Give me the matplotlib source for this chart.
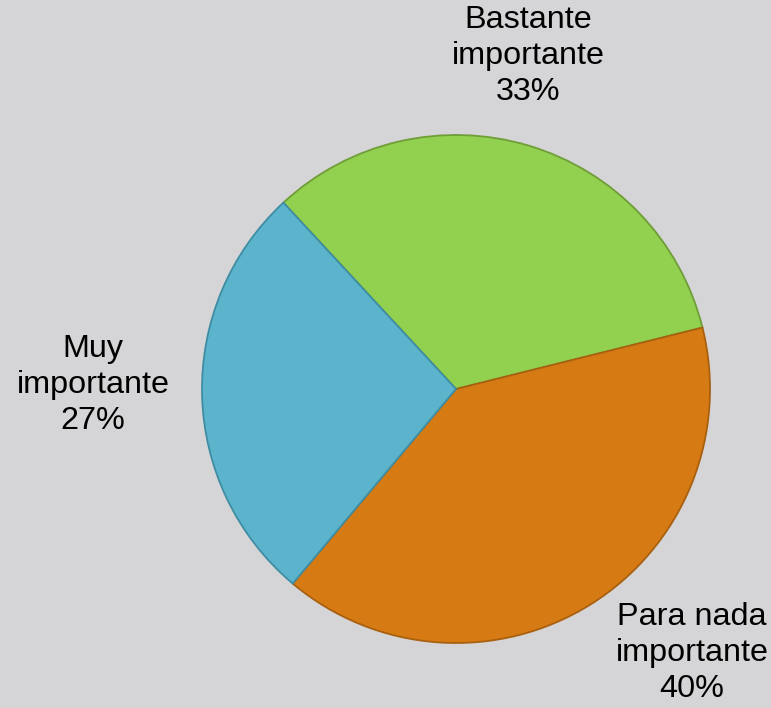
import matplotlib
matplotlib.use("Agg")
import matplotlib.pyplot as plt

categories = ["Bastante\nimportante", "Para nada\nimportante", "Muy\nimportante"]
values = [33, 40, 27]
colors = ["#92D050", "#D67A14", "#5BB3CC"]
edge_colors = ["#6F9E38", "#A8600F", "#3F8DA3"]
label_pos = [(528, 708 - 56), (692, 708 - 653), (93, 708 - 385)]

W, H = 771, 708
fig = plt.figure(figsize=(W / 100, H / 100), dpi=100)
bg = "#D5D5D7"
fig.patch.set_facecolor(bg)
ax = fig.add_axes([0, 0, 1, 1])
ax.set_facecolor(bg)

wedges, _ = ax.pie(values, colors=colors, startangle=132.8, counterclock=False,
                   center=(456, H - 389), radius=254, frame=True,
                   wedgeprops=dict(linewidth=1.3))
for w, ec in zip(wedges, edge_colors):
    w.set_edgecolor(ec)
ax.set_xlim(0, W)
ax.set_ylim(0, H)
ax.set_aspect("equal")
ax.axis("off")

total = sum(values)
for cat, v, (x, y) in zip(categories, values, label_pos):
    ax.text(x, y, f"{cat}\n{round(100 * v / total)}%", ha="center", va="center",
            fontsize=23.3, family="Liberation Sans", color="black", linespacing=1.28)

fig.savefig("out.png", dpi=100, facecolor=bg)
